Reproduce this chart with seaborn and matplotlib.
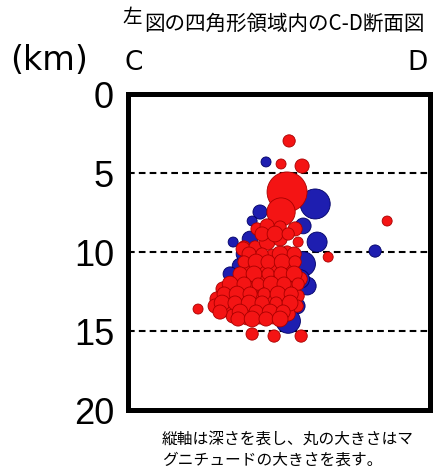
import matplotlib
matplotlib.use("Agg")
import matplotlib.pyplot as plt
import seaborn as sns
import pandas as pd

# Hypocentres projected on the C-D section: horizontal distance (km), depth (km), magnitude
blue_x = [8.73, 11.84, 8.35, 7.85, 6.65, 11.96, 11.08, 11.33, 10.70, 10.13,
          7.09, 7.72, 9.18, 8.48, 15.63, 11.08, 6.46, 7.34, 10.89]
blue_depth = [4.30, 6.96, 7.47, 8.04, 9.37, 9.37, 10.76, 12.15, 13.42, 14.37,
              10.89, 9.18, 12.22, 13.42, 9.94, 8.35, 11.39, 10.13, 11.71]
blue_mag = [1.0, 2.6, 1.2, 1.0, 1.0, 1.6, 2.0, 1.45, 1.3, 2.0,
            1.3, 1.3, 1.0, 1.0, 1.1, 1.3, 1.2, 1.3, 1.5]

red_x = [10.19, 9.68, 11.01, 10.06, 9.68, 16.39, 10.76, 7.34, 12.66, 4.43, 7.85, 9.24, 10.95,
         8.16, 8.80, 9.62, 10.57, 7.28, 8.04, 8.80, 9.62, 10.06, 8.35, 9.18,
         7.72, 8.54, 9.43, 10.25, 7.53, 8.35, 9.18, 10.06, 10.89,
         6.01, 6.90, 7.72, 8.67, 9.49, 10.38, 5.63, 6.46, 7.28, 8.16, 9.11, 9.94, 10.76,
         5.51, 6.27, 7.09, 7.91, 8.80, 9.62, 10.70, 6.65, 7.53, 8.35, 9.18, 10.13,
         8.48, 9.30, 10.13,
         7.66, 8.48, 9.62, 10.51,
         7.34, 8.10, 8.86, 9.75, 10.57,
         7.09, 7.97, 8.86, 9.68, 10.51,
         6.46, 7.34, 8.23, 9.05, 9.87, 10.76,
         6.08, 6.90, 7.72, 8.61, 9.49, 10.32,
         5.95, 6.77, 7.66, 8.48, 9.37, 10.25,
         5.82, 7.09, 8.10, 8.99, 9.81,
         6.96, 7.85, 8.73, 9.62]
red_depth = [2.97, 4.43, 4.56, 6.20, 7.47, 8.04, 9.37, 9.68, 10.32, 13.61, 15.19, 15.32, 15.32,
             8.54, 8.35, 8.42, 8.54, 9.81, 9.68, 9.37, 9.18, 10.00, 10.44, 10.32,
             11.08, 11.08, 10.95, 10.89, 11.71, 11.84, 11.71, 11.58, 11.71,
             12.34, 12.22, 12.47, 12.53, 12.47, 12.34, 12.97, 12.97, 12.97, 13.10, 12.97, 12.85, 12.78,
             13.42, 13.61, 13.48, 13.73, 13.61, 13.48, 13.42, 14.05, 14.11, 14.11, 14.05, 13.92,
             8.86, 8.86, 8.86,
             10.13, 10.13, 10.13, 10.13,
             10.63, 10.63, 10.63, 10.63, 10.63,
             11.39, 11.39, 11.39, 11.39, 11.39,
             12.03, 12.03, 12.03, 12.03, 12.03, 12.03,
             12.66, 12.66, 12.66, 12.66, 12.66, 12.66,
             13.23, 13.23, 13.23, 13.23, 13.23, 13.23,
             13.80, 13.80, 13.80, 13.80, 13.80,
             14.24, 14.24, 14.24, 14.24]
red_mag = [1.1, 1.0, 1.2, 4.0, 2.4, 1.0, 1.0, 1.1, 1.0, 1.0, 1.1, 1.1, 1.1,
           1.1, 1.2, 1.1, 1.2, 1.2, 1.1, 1.3, 1.2, 1.1, 1.2, 1.3,
           1.2, 1.3, 1.2, 1.1, 1.2, 1.3, 1.2, 1.1, 1.2,
           1.2, 1.1, 1.3, 1.2, 1.3, 1.2, 1.2, 1.3, 1.2, 1.3, 1.2, 1.3, 1.1,
           1.2, 1.3, 1.2, 1.3, 1.2, 1.3, 1.1, 1.2, 1.3, 1.2, 1.3, 1.2,
           1.2, 1.3, 1.1,
           1.2, 1.1, 1.3, 1.2,
           1.1, 1.3, 1.2, 1.3, 1.1,
           1.2, 1.3, 1.1, 1.2, 1.3,
           1.3, 1.2, 1.1, 1.3, 1.2, 1.1,
           1.2, 1.3, 1.2, 1.1, 1.3, 1.2,
           1.3, 1.2, 1.3, 1.2, 1.1, 1.3,
           1.2, 1.3, 1.2, 1.3, 1.2,
           1.2, 1.3, 1.2, 1.3]

depth_ticks = [0, 5, 10, 15, 20]
guide_depths = [5, 10, 15]

blue_df = pd.DataFrame({"x": blue_x, "depth": blue_depth, "mag": blue_mag})
red_df = pd.DataFrame({"x": red_x, "depth": red_depth, "mag": red_mag})

sns.set_style("white")
plt.rcParams["font.family"] = ["Noto Sans CJK JP", "DejaVu Sans"]
plt.rcParams["text.color"] = "black"
plt.rcParams["ytick.color"] = "black"

W, H = 439, 477
fig = plt.figure(figsize=(W / 100, H / 100), dpi=100)
ax = fig.add_axes([128 / W, 1 - 411 / H, 302 / W, 316 / H])

size_kw = dict(size="mag", sizes=(52, 830), size_norm=(1.0, 4.0), legend=False)

for d in guide_depths:
    ax.axhline(d, color="black", lw=1.5, ls=(0, (3.2, 2.0)), zorder=1)

sns.scatterplot(data=blue_df, x="x", y="depth", color="#1E1EB0",
                edgecolor="#000066", linewidth=0.6, ax=ax, zorder=3, **size_kw)
sns.scatterplot(data=red_df, x="x", y="depth", color="#F41414",
                edgecolor="#A80000", linewidth=0.6, ax=ax, zorder=4, **size_kw)

ax.set_xlim(0, 19.1)
ax.set_ylim(20, 0)
ax.set_xticks([])
ax.set_yticks(depth_ticks)
ax.set_yticklabels([str(t) for t in depth_ticks], fontfamily="Liberation Sans",
                   fontsize=26, color="black")
ax.tick_params(axis="y", length=0, pad=10)
ax.set_xlabel("")
ax.set_ylabel("")
for sp in ax.spines.values():
    sp.set_visible(True)
    sp.set_color("black")
    sp.set_linewidth(3.6)

def fx(px):
    return px / W

def fy(py):
    return 1 - py / H

fig.text(fx(10), fy(60), "(km)", fontsize=24, family="DejaVu Sans", ha="left", va="center")
fig.text(fx(125), fy(63), "C", fontsize=19, family="DejaVu Sans", ha="left", va="center")
fig.text(fx(428), fy(63), "D", fontsize=19, family="DejaVu Sans", ha="right", va="center")
fig.text(fx(122), fy(18), "左", fontsize=14, ha="left", va="center")
fig.text(fx(144), fy(24), "図の四角形領域内のC-D断面図", fontsize=14.8, ha="left", va="center")
fig.text(fx(162), fy(439), "縦軸は深さを表し、丸の大きさはマ", fontsize=11.3, ha="left", va="center")
fig.text(fx(162), fy(460), "グニチュードの大きさを表す。", fontsize=11.3, ha="left", va="center")

fig.savefig("out.png", dpi=100)
